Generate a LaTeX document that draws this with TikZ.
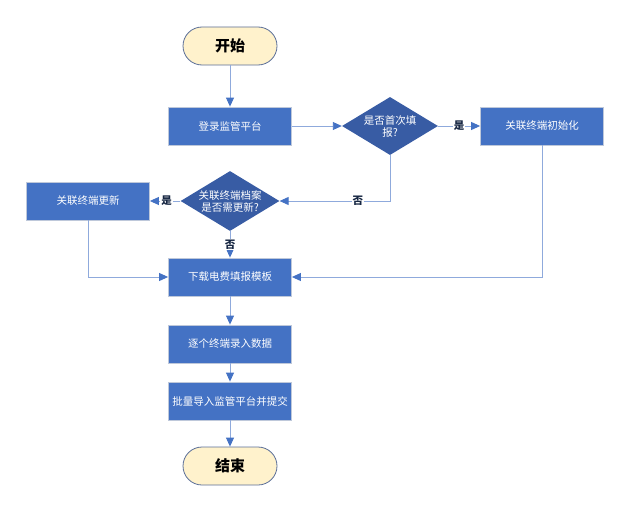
\documentclass[tikz,border=0pt]{standalone}
\usepackage{fontspec}
\usepackage{xcolor}
\usetikzlibrary{arrows.meta,shapes.geometric,positioning}
\newfontfamily\cjk{Noto Sans CJK SC}
\definecolor{fblue}{RGB}{68,114,196}
\definecolor{dblue}{RGB}{56,92,164}
\definecolor{lblue}{RGB}{143,170,220}
\definecolor{edgegray}{RGB}{190,200,218}
\definecolor{termfill}{RGB}{255,242,204}
\definecolor{termline}{RGB}{90,110,152}
\definecolor{lblnavy}{RGB}{22,38,66}

\begin{document}
\begin{tikzpicture}[
  x=1pt, y=-1pt,
  font=\cjk\fontsize{10.5}{12}\selectfont,
  >={Triangle[length=9pt,width=8pt,color=fblue]},
  term/.style={draw=termline, line width=0.8pt, fill=termfill, rounded corners=19pt, minimum width=94pt, minimum height=38pt, font=\cjk\bfseries\fontsize{15}{17}\selectfont},
  proc/.style={draw=edgegray, line width=0.8pt, fill=fblue, text=white, minimum width=123pt, minimum height=38pt, inner sep=2pt},
  ask/.style={diamond, aspect=1.65, draw=none, fill=dblue, text=white, align=center, inner sep=0pt, minimum width=96pt, minimum height=58pt},
  flow/.style={->, line width=0.9pt, draw=lblue},
  yesno/.style={font=\cjk\bfseries\fontsize{10.5}{12}\selectfont, text=lblnavy, fill=white, inner sep=1pt}
]
\useasboundingbox (0,0) rectangle (628,511);

% Main column
\node[term] (start) at (230,46) {开始};
\node[proc] (login) at (230,126) {登录监管平台};
\node[ask] (first) at (390,126) {是否首次填\\报?};
\node[proc] (init) at (542,126) {关联终端初始化};
\node[ask] (upd) at (230,201) {关联终端档案\\是否需更新?};
\node[proc] (renew) at (88,201) {关联终端更新};
\node[proc] (tmpl) at (230,277) {下载电费填报模板};
\node[proc] (entry) at (230,344) {逐个终端录入数据};
\node[proc] (submit) at (230,401) {批量导入监管平台并提交};
\node[term] (stop) at (230,466) {结束};

% Arrows
\draw[flow] (start) -- (login);
\draw[flow] (login) -- (first);
\draw[flow] (first) -- (init) node[yesno, pos=0.5] (y1) {是};
\draw[flow] (first.south) |- (upd.east) node[yesno, pos=0.645] (n1) {否};
\draw[flow] (upd) -- (renew) node[yesno, pos=0.45] (y2) {是};
\draw[flow] (upd) -- (tmpl) node[yesno, pos=0.5] (n2) {否};
\draw[flow] (init.south) |- (tmpl.east);
\draw[flow] (renew.south) |- (tmpl.west);
\draw[flow] (tmpl) -- (entry);
\draw[flow] (entry) -- (submit);
\draw[flow] (submit) -- (stop);

\end{tikzpicture}
\end{document}
